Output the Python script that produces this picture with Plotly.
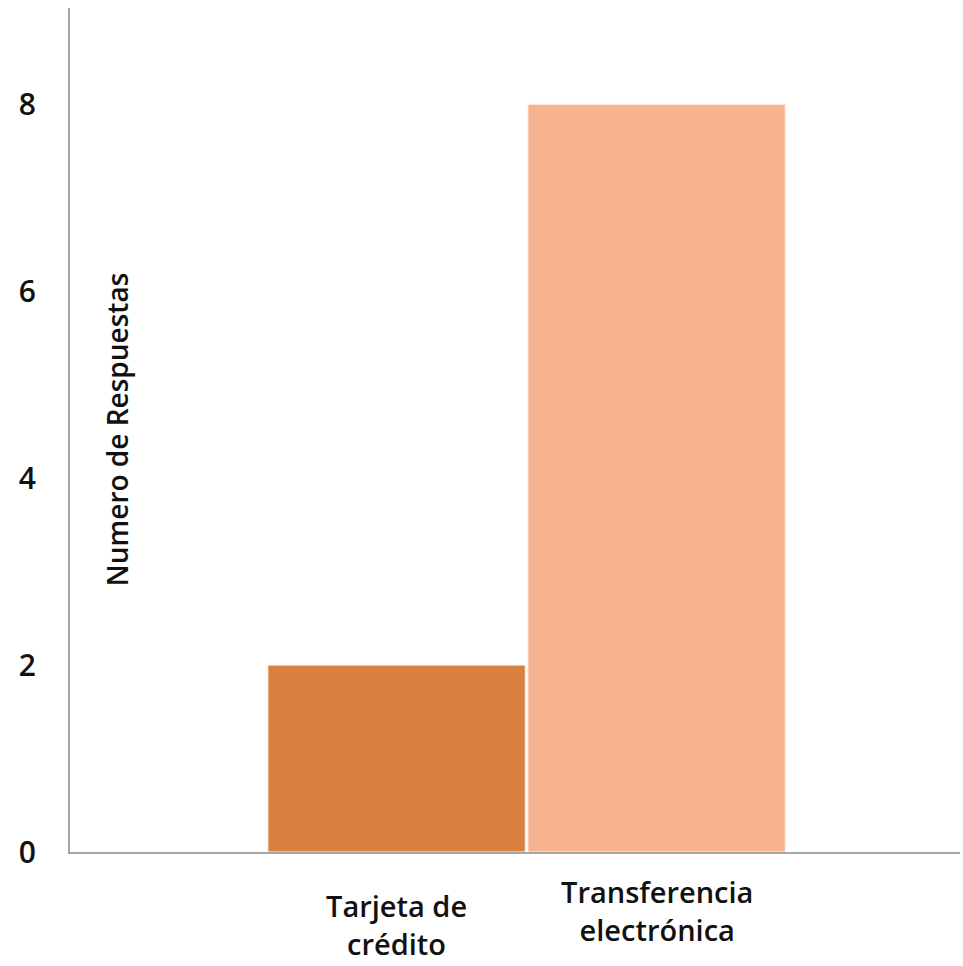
import plotly.graph_objects as go

categories = ["Tarjeta de<br>crédito", "Transferencia<br>electrónica"]
values = [2, 8]
colors = ["#D98240", "#F7B390"]
y_ticks = [0, 2, 4, 6, 8]
y_title = "Numero de Respuestas"

positions = list(range(len(categories)))
font_family = "Open Sans, Liberation Sans, sans-serif"

fig = go.Figure()
fig.add_trace(go.Bar(
    x=positions, y=values, width=0.99,
    marker=dict(color=colors, line=dict(color="#FFF4EC", width=1)),
    showlegend=False, hoverinfo="skip",
))

label_shift = [-32, -18]
for p, c, s in zip(positions, categories, label_shift):
    fig.add_annotation(x=p, y=0, xref="x", yref="y", text=c, showarrow=False,
                       yanchor="top", yshift=s,
                       font=dict(family=font_family, size=29, color="#111111", weight=600))

fig.add_annotation(x=0.053, y=0.5, xref="paper", yref="paper", text=y_title,
                   textangle=-90, showarrow=False, xanchor="center", yanchor="middle",
                   font=dict(family=font_family, size=28, color="#111111", weight=600))

fig.update_layout(
    width=963, height=966,
    margin=dict(l=70, r=3, t=8, b=114),
    paper_bgcolor="white", plot_bgcolor="white",
    font=dict(family=font_family, color="#111111"),
)
fig.update_xaxes(range=[-1.256, 2.167], showticklabels=False, showgrid=False,
                 zeroline=False, showline=True, linecolor="#A6A6A6", linewidth=2,
                 ticks="")
fig.update_yaxes(range=[0, 9.03], tickvals=y_ticks, showgrid=False, zeroline=False,
                 showline=True, linecolor="#A6A6A6", linewidth=2, ticks="",
                 ticklabelstandoff=26,
                 tickfont=dict(family=font_family, size=30, color="#111111", weight=600))

fig.write_html("out.html", config={"displayModeBar": False},
               post_script="document.body.style.margin='0';document.body.style.overflow='hidden';")
